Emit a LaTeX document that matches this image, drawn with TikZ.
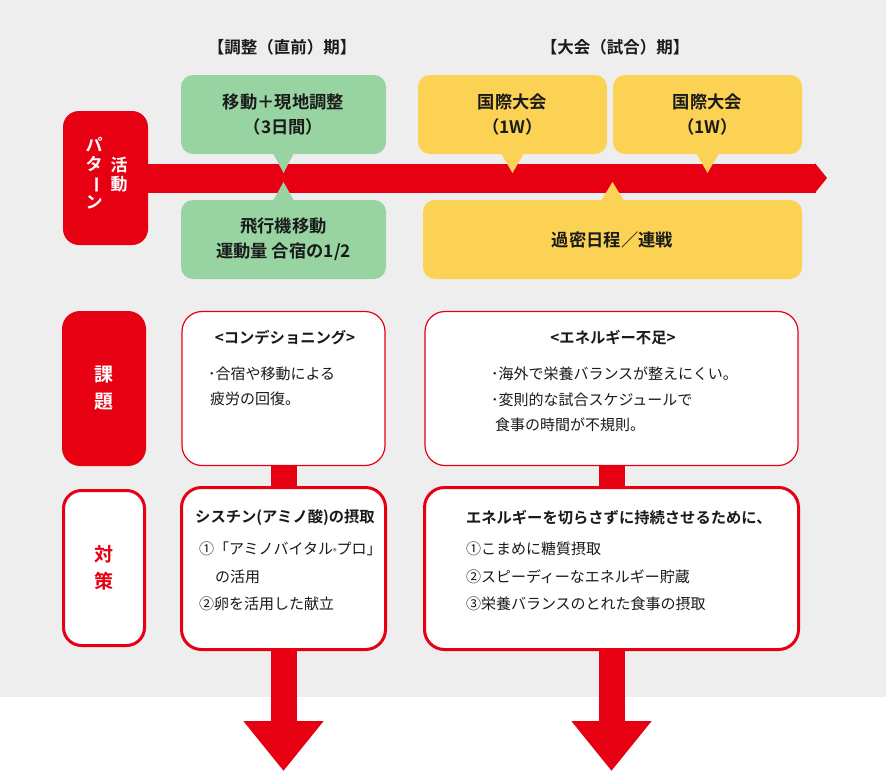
\documentclass[tikz,border=0pt]{standalone}
\usepackage{fontspec}
\setmainfont{Noto Sans CJK JP}[BoldFont={Noto Sans CJK JP Bold}]
\usepackage{tikz}
\usetikzlibrary{arrows.meta}
\definecolor{jred}{HTML}{E60012}
\definecolor{jgreen}{HTML}{97D4A1}
\definecolor{jyellow}{HTML}{FCD254}
\definecolor{paper}{HTML}{EEEEEE}
\definecolor{ink}{HTML}{1A1A1A}

\begin{document}
\begin{tikzpicture}[x=1pt,y=-1pt,
	every node/.style={inner sep=0pt, outer sep=0pt, text=ink},
	period/.style={font=\fontsize{16.5}{20}\selectfont\bfseries},
	phase/.style={rounded corners=12pt, minimum height=79pt, align=center, font=\fontsize{17.3}{25}\selectfont\bfseries},
	redtag/.style={rounded corners=18pt, minimum width=84pt, align=center, font=\fontsize{19}{27}\selectfont\bfseries},
	tagtext/.style={text=white, align=center, font=\fontsize{17}{19}\selectfont\bfseries},
	issue/.style={draw=jred, line width=1.2pt, fill=white, rounded corners=20pt, minimum height=154pt},
	measure/.style={draw=jred, line width=3pt, fill=white, rounded corners=20pt, minimum height=162pt},
	head/.style={font=\fontsize{15.3}{20}\selectfont\bfseries},
	body/.style={align=left, font=\fontsize{15}{25.5}\selectfont},
	bar/.style={jred, line width=29pt, -{Triangle[width=29pt,length=12pt]}},
	link/.style={jred, line width=26pt},
	bigarrow/.style={jred, line width=26pt, -{Triangle[width=77pt,length=50pt]}}]
	%\draw [help lines] (0,0) grid (886,771);
	\useasboundingbox (0,0) rectangle (886,771);
	\fill[white] (0,0) rectangle (886,771);
	\fill[paper] (0,0) rectangle (886,697);

	\node[period] (t1) at (282,47) {【調整（直前）期】};
	\node[period] (t2) at (615,47) {【大会（試合）期】};

	% activity pattern
	\node[redtag, fill=jred, minimum width=85pt, minimum height=134pt, rounded corners=16pt] (act) at (105.5,178) {};
	\node[tagtext] (actA) at (119,175) {活\\動};
	\node[tagtext] (actB) at (94,173) {パ\\タ\\\rotatebox[origin=c]{-90}{ー}\\ン};
	\coordinate (barend) at (827,178);
	\draw[bar] (act.east) -- (barend);

	\node[phase, fill=jgreen, minimum width=205pt] (g1) at (283.5,114.5) {移動＋現地調整\\（3日間）};
	\node[phase, fill=jgreen, minimum width=205pt] (g2) at (283.5,239.5) {飛行機移動\\運動量 合宿の1/2};
	\node[phase, fill=jyellow, minimum width=189pt] (y1) at (512.5,114.5) {国際大会\\（1W）};
	\node[phase, fill=jyellow, minimum width=189pt] (y2) at (707.5,114.5) {国際大会\\（1W）};
	\node[phase, fill=jyellow, minimum width=379pt] (y3) at (612.5,239.5) {過密日程／連戦};

	\fill[jgreen] ([xshift=-10pt]g1.south) -- ([xshift=10pt]g1.south) -- ([yshift=-19pt]g1.south) -- cycle;
	\fill[jyellow] ([xshift=-11pt]y1.south) -- ([xshift=11pt]y1.south) -- ([yshift=-19pt]y1.south) -- cycle;
	\fill[jyellow] ([xshift=-11pt]y2.south) -- ([xshift=11pt]y2.south) -- ([yshift=-19pt]y2.south) -- cycle;
	\fill[jgreen] ([xshift=-10pt]g2.north) -- ([xshift=10pt]g2.north) -- ([yshift=18pt]g2.north) -- cycle;
	\fill[jyellow] ([xshift=-11pt]y3.north) -- ([xshift=11pt]y3.north) -- ([yshift=18pt]y3.north) -- cycle;

	% issues and measures
	\node[redtag, fill=jred, text=white, minimum height=155pt] (kadai) at (104,388.5) {課\\題};
	\node[redtag, draw=jred, line width=3pt, fill=white, text=jred, minimum width=81pt, minimum height=155pt] (taisaku) at (104,568) {対\\策};

	\node[issue, minimum width=203pt] (w1) at (283.5,388.5) {};
	\node[issue, minimum width=373pt] (w2) at (611.5,388.5) {};
	\node[measure, minimum width=204pt] (c1) at (283.5,568.5) {};
	\node[measure, minimum width=374pt] (c2) at (611.5,568.5) {};

	\coordinate (endL) at (283.5,771);
	\coordinate (endR) at (611.5,771);
	\draw[link] (w1.south) -- (c1.north);
	\draw[link] (w2.south) -- (c2.north);
	\draw[bigarrow] (c1.south) -- (endL);
	\draw[bigarrow] (c2.south) -- (endR);

	\node[head] (w1h) at (285,338) {<コンデショニング>};
	\node[body, anchor=west] (w1b) at (208,386.5) {･合宿や移動による\\\hspace*{2pt}疲労の回復。};
	\node[head] (w2h) at (613,338) {<エネルギー不足>};
	\node[body, anchor=west] (w2b) at (491,399.5) {･海外で栄養バランスが整えにくい。\\･変則的な試合スケジュールで\\\hspace*{4pt}食事の時間が不規則。};

	\node[head] (c1h) at (285,518) {シスチン(アミノ酸)の摂取};
	\node[body, anchor=west, font=\fontsize{15}{27.5}\selectfont] (c1b) at (199,576.5) {①「アミノバイタル\scalebox{.5}{®}プロ」\\\hspace*{16pt}の活用\\②卵を活用した献立};
	\node[head, anchor=west] (c2h) at (466,518) {エネルギーを切らさずに持続させるために、};
	\node[body, anchor=west, font=\fontsize{15}{27.5}\selectfont] (c2b) at (466,576.5) {①こまめに糖質摂取\\②スピーディーなエネルギー貯蔵\\③栄養バランスのとれた食事の摂取};
\end{tikzpicture}
\end{document}
